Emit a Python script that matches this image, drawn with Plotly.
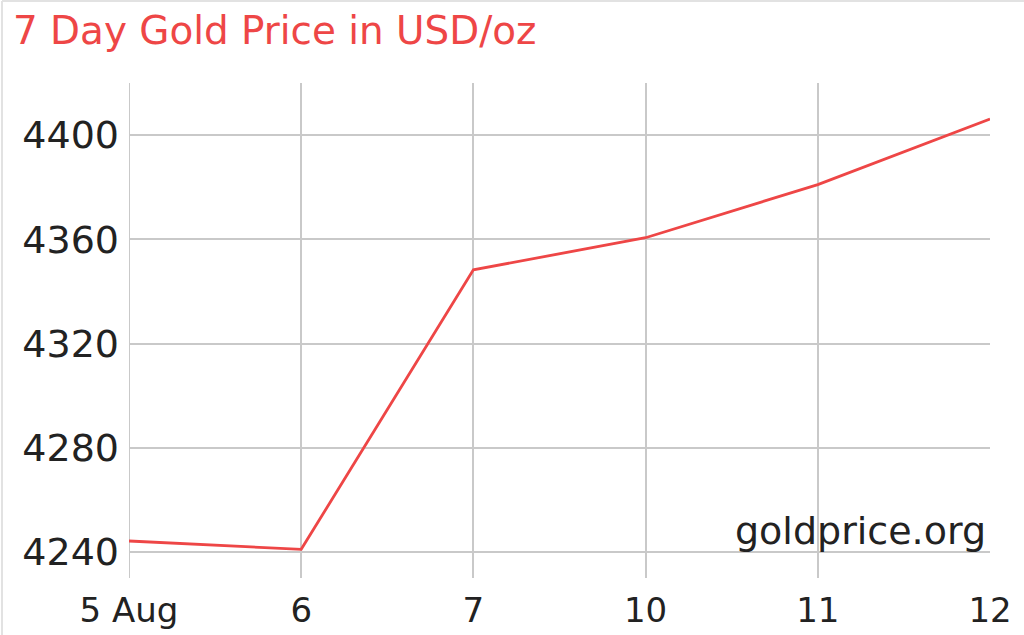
import plotly.graph_objects as go

# 7-day gold price, USD per ounce
days = ['5 Aug', '6', '7', '10', '11', '12']
prices = [4244.2, 4241.0, 4348.3, 4360.6, 4381.0, 4406.2]
y_ticks = [4240, 4280, 4320, 4360, 4400]

RED = '#ee4646'
GRID = '#c9c9c9'
FONT = 'DejaVu Sans'

W, H = 1024, 635
L, R, T, B = 129, 34, 83, 57


def px_x(px):
    return (px - L) / (W - L - R)


def px_y(py):
    return (H - B - py) / (H - T - B)


fig = go.Figure()
fig.add_trace(
    go.Scatter(
        x=list(range(len(days))),
        y=prices,
        mode='lines',
        line=dict(color=RED, width=2.8),
        hoverinfo='skip',
    )
)

fig.update_layout(
    width=W,
    height=H,
    margin=dict(l=L, r=R, t=T, b=B, pad=0),
    paper_bgcolor='white',
    plot_bgcolor='white',
    showlegend=False,
    font=dict(family=FONT, color='#222222'),
)

fig.update_xaxes(
    range=[0, len(days) - 1],
    tickvals=list(range(len(days))),
    ticktext=days,
    showgrid=True,
    gridcolor=GRID,
    gridwidth=2,
    zeroline=False,
    showline=False,
    ticks='',
    tickfont=dict(size=34, color='#222222'),
    ticklabelstandoff=9,
    automargin=False,
)
fig.update_yaxes(
    range=[4230, 4420],
    tickvals=y_ticks,
    showgrid=True,
    gridcolor=GRID,
    gridwidth=2,
    zeroline=False,
    showline=False,
    ticks='',
    tickfont=dict(size=38, color='#222222'),
    ticklabelstandoff=9,
    automargin=False,
)

# first vertical grid line (plotly drops the one on the range edge)
fig.add_shape(type='line', xref='x', yref='paper', layer='below',
              x0=0, x1=0, y0=0, y1=1,
              line=dict(color=GRID, width=2))

# title
fig.add_annotation(
    text='7 Day Gold Price in USD/oz',
    xref='paper', yref='paper',
    x=px_x(11), y=px_y(31),
    xanchor='left', yanchor='middle',
    showarrow=False,
    font=dict(family=FONT, size=38.9, color=RED),
)

# watermark
fig.add_annotation(
    text='goldprice.org',
    xref='paper', yref='paper',
    x=px_x(988), y=px_y(531),
    xanchor='right', yanchor='middle',
    showarrow=False,
    font=dict(family=FONT, size=38, color='#222222'),
)

# thin frame on top and left edges of the widget
fig.add_shape(type='line', xref='paper', yref='paper',
              x0=px_x(2), x1=px_x(W), y0=px_y(1), y1=px_y(1),
              line=dict(color='#e2e2e2', width=2))
fig.add_shape(type='line', xref='paper', yref='paper',
              x0=px_x(2), x1=px_x(2), y0=px_y(1), y1=px_y(H),
              line=dict(color='#e2e2e2', width=2))

fig.write_html(
    'out.html',
    config={'displayModeBar': False},
    post_script="document.body.style.margin='0';",
)
